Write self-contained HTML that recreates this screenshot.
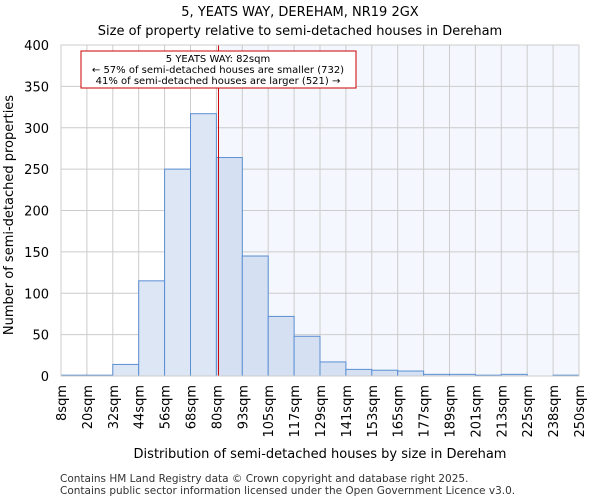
<!DOCTYPE html>
<html><head><meta charset="utf-8"><style>
body{margin:0;background:#fff;font-family:"DejaVu Sans","Liberation Sans",sans-serif;}
svg text{font-family:"DejaVu Sans","Liberation Sans",sans-serif;}
</style></head><body>
<svg id="chart" width="600" height="500" xmlns="http://www.w3.org/2000/svg">
<text x="300" y="16" text-anchor="middle" font-size="13">5, YEATS WAY, DEREHAM, NR19 2GX</text>
<text x="300" y="35" text-anchor="middle" font-size="13">Size of property relative to semi-detached houses in Dereham</text>
<g id="plot"></g>
<text x="320" y="458" text-anchor="middle" font-size="13">Distribution of semi-detached houses by size in Dereham</text>
<text transform="translate(13,215) rotate(-90)" text-anchor="middle" font-size="13">Number of semi-detached properties</text>
<text x="60" y="482" font-size="10.5" fill="#333">Contains HM Land Registry data © Crown copyright and database right 2025.</text>
<text x="60" y="494" font-size="10.5" fill="#333">Contains public sector information licensed under the Open Government Licence v3.0.</text>
</svg>
<script>
const binLabels=["8sqm","20sqm","32sqm","44sqm","56sqm","68sqm","80sqm","93sqm","105sqm","117sqm","129sqm","141sqm","153sqm","165sqm","177sqm","189sqm","201sqm","213sqm","225sqm","238sqm","250sqm"];
const counts=[1,1,14,115,250,317,264,145,72,48,17,8,7,6,2,2,1,2,0,1];
const yTicks=[0,50,100,150,200,250,300,350,400];
const propertyBinPos=6.08;
const NS="http://www.w3.org/2000/svg";
const X0=61,X1=579,Y0=376,Y1=45,YMAX=400;
const bw=(X1-X0)/counts.length;
const xs=i=>X0+i*bw;
const ys=v=>Y0-(v/YMAX)*(Y0-Y1);
const g=document.getElementById('plot');
function mk(t,a){const e=document.createElementNS(NS,t);for(const k in a)e.setAttribute(k,a[k]);g.appendChild(e);return e;}
const lx=xs(propertyBinPos);
let e=mk('rect',{x:lx,y:Y1,width:X1-lx,height:Y0-Y1,fill:'#f4f7fd'});


yTicks.forEach(v=>{
 let l=mk('line',{x1:X0,x2:X1,y1:ys(v),y2:ys(v),stroke:'#cccccc'});
 
 
 let t=mk('text',{x:X0-12,y:ys(v)+5,'text-anchor':'end','font-size':13});
 t.textContent=v;
 
 
});
binLabels.forEach((s,i)=>{
 let l=mk('line',{x1:xs(i),x2:xs(i),y1:Y1,y2:Y0,stroke:'#cccccc'});
 
 
 let t=mk('text',{transform:`translate(${xs(i)+5},${Y0+9}) rotate(-90)`,'text-anchor':'end','font-size':13});
 t.textContent=s;
 
 
});
counts.forEach((c,i)=>{
 if(c<=0)return;
 let r=mk('rect',{x:xs(i),y:ys(c),width:bw,height:Y0-ys(c),fill:i>=6?'#d5e1f2':'#dce6f4',stroke:'#5b8fd4','stroke-width':1});
 
 
});
e=mk('line',{x1:lx,x2:lx,y1:Y1,y2:Y0,stroke:'#cc0000','stroke-width':1});


e=mk('rect',{x:81,y:51,width:275,height:37,fill:'#fff',stroke:'#cc0000','stroke-width':1});


["5 YEATS WAY: 82sqm","← 57% of semi-detached houses are smaller (732)","41% of semi-detached houses are larger (521) →"].forEach((s,i)=>{
 let t=mk('text',{x:218,y:62+i*11,'text-anchor':'middle','font-size':10});
 t.textContent=s;
 
 
});
e=mk('rect',{x:X0,y:Y1,width:X1-X0,height:Y0-Y1,fill:'none',stroke:'#cccccc'});


</script>
</body></html>
